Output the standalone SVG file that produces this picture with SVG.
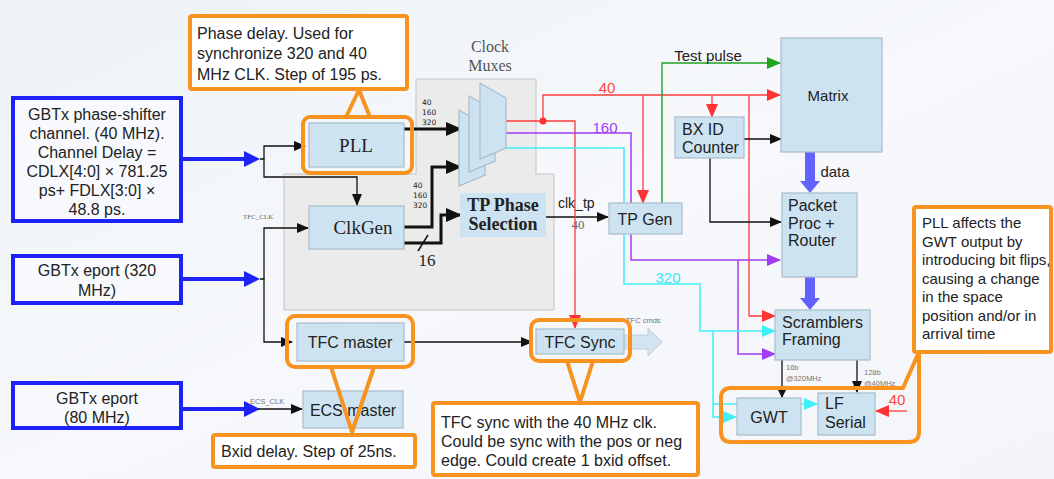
<svg xmlns="http://www.w3.org/2000/svg" width="1054" height="479" viewBox="0 0 1054 479">
  <defs>
    <linearGradient id="bg" x1="0" y1="0" x2="1" y2="1">
      <stop offset="0" stop-color="#eef2f7"/>
      <stop offset="0.5" stop-color="#f6f8fb"/>
      <stop offset="1" stop-color="#f3f5f8"/>
    </linearGradient>
    <marker id="ah-k" markerUnits="userSpaceOnUse" markerWidth="12" markerHeight="10" refX="11" refY="5" orient="auto">
      <path d="M0,0 L12,5 L0,10 Z" fill="#111"/>
    </marker>
    <marker id="ah-k-s" markerUnits="userSpaceOnUse" markerWidth="8" markerHeight="8" refX="7" refY="4" orient="auto">
      <path d="M0,0 L8,4 L0,8 Z" fill="#111"/>
    </marker>
    <marker id="ah-k-big" markerUnits="userSpaceOnUse" markerWidth="16" markerHeight="14" refX="15" refY="7" orient="auto">
      <path d="M0,0 L16,7 L0,14 Z" fill="#111"/>
    </marker>
    <marker id="ah-r" markerUnits="userSpaceOnUse" markerWidth="14" markerHeight="12" refX="13" refY="6" orient="auto">
      <path d="M0,0 L14,6 L0,12 Z" fill="#ff3333"/>
    </marker>
    <marker id="ah-p" markerUnits="userSpaceOnUse" markerWidth="14" markerHeight="12" refX="13" refY="6" orient="auto">
      <path d="M0,0 L14,6 L0,12 Z" fill="#a23cf5"/>
    </marker>
    <marker id="ah-c" markerUnits="userSpaceOnUse" markerWidth="14" markerHeight="12" refX="13" refY="6" orient="auto">
      <path d="M0,0 L14,6 L0,12 Z" fill="#3ff0f8"/>
    </marker>
    <marker id="ah-g" markerUnits="userSpaceOnUse" markerWidth="14" markerHeight="12" refX="13" refY="6" orient="auto">
      <path d="M0,0 L14,6 L0,12 Z" fill="#22a322"/>
    </marker>
    <style>
      .sans { font-family: "Liberation Sans", Arial, sans-serif; fill: #222; }
      .serif { font-family: "Liberation Serif", "Times New Roman", serif; fill: #222; }
      .box { fill: #cde3f1; stroke: #a9bccb; stroke-width: 1.2; }
      .input { fill: #f7f9fc; stroke: #1d22f5; stroke-width: 4; }
      .callout { fill: #ffffff; stroke: #f7931e; stroke-width: 4; }
      .ring { fill: none; stroke: #f7931e; stroke-width: 4; stroke-linejoin: round; }
      .wk { fill: none; stroke: #111; stroke-width: 1.3; }
      .wk3 { fill: none; stroke: #111; stroke-width: 3; }
      .wr { fill: none; stroke: #ff3b3b; stroke-width: 1.3; }
      .wp { fill: none; stroke: #a23cf5; stroke-width: 1.5; }
      .wc { fill: none; stroke: #3ff0f8; stroke-width: 1.5; }
      .wg { fill: none; stroke: #22a322; stroke-width: 1.4; }
      .wb { fill: none; stroke: #1d22f5; stroke-width: 4; }
      .tiny { font-family: "Liberation Sans", Arial, sans-serif; font-size: 7.5px; fill: #777; }
      .bus { font-family: "DejaVu Sans", sans-serif; font-size: 7.5px; fill: #222; }
    </style>
  </defs>

  <!-- background -->
  <rect x="0" y="0" width="1054" height="479" fill="url(#bg)"/>

  <!-- shaded clocking region -->
  <g id="clock-region">
    <path d="M416,79 H536 V174 H554 V310 H284 V174 H416 Z" fill="#ebebeb" stroke="#c4c4c4" stroke-width="1"/>
    <text class="serif" x="490" y="52" font-size="16" text-anchor="middle" style="fill:#555">Clock</text>
    <text class="serif" x="490" y="71" font-size="16" text-anchor="middle" style="fill:#555">Muxes</text>
  </g>

  <!-- connectors -->
  <g id="connectors">
    <!-- input arrows -->
    <line class="wb" x1="181" y1="159" x2="246" y2="159"/>
    <polygon points="244,151 260,159 244,167" fill="#1d22f5"/>
    <line class="wb" x1="181" y1="279" x2="246" y2="279"/>
    <polygon points="244,271 260,279 244,287" fill="#1d22f5"/>
    <line class="wb" x1="181" y1="409" x2="246" y2="409"/>
    <polygon points="244,401 260,409 244,417" fill="#1d22f5"/>

    <!-- 40 MHz phase-shifter clock distribution -->
    <path class="wk" d="M260,159 H264 V146 H305" marker-end="url(#ah-k)"/>
    <path class="wk" d="M264,159 V177 H357 V205" marker-end="url(#ah-k)"/>
    <!-- TFC_CLK -->
    <path class="wk" d="M260,279 H264 V228 H308" marker-end="url(#ah-k)"/>
    <path class="wk" d="M264,279 V342 H292" marker-end="url(#ah-k)"/>
    <text class="serif" x="243" y="219" font-size="7" style="fill:#666">TFC_CLK</text>
    <!-- ECS_CLK -->
    <path class="wk" d="M258,409 H302" marker-end="url(#ah-k)"/>
    <text class="tiny" x="250" y="404">ECS_CLK</text>

    <!-- clock buses into the muxes -->
    <path class="wk3" d="M404,129 H461" marker-end="url(#ah-k-big)"/>
    <text class="bus" x="422" y="105">40</text>
    <text class="bus" x="422" y="115">160</text>
    <text class="bus" x="422" y="125">320</text>
    <path class="wk3" d="M404,227 H432 V167 H461" marker-end="url(#ah-k-big)"/>
    <text class="bus" x="413" y="188">40</text>
    <text class="bus" x="413" y="198">160</text>
    <text class="bus" x="413" y="208">320</text>
    <path class="wk3" d="M404,243 H441 V215 H461" marker-end="url(#ah-k-big)"/>
    <line x1="418" y1="251" x2="428" y2="235" stroke="#111" stroke-width="1.5"/>
    <text class="serif" x="427" y="266" font-size="17" text-anchor="middle">16</text>

    <!-- clk_tp -->
    <path class="wk" d="M546,217 H608" marker-end="url(#ah-k)"/>
    <text class="sans" x="558" y="208" font-size="14">clk_tp</text>
    <text class="serif" x="578" y="229" font-size="13" text-anchor="middle" style="fill:#666">40</text>

    <!-- 40 MHz (red) -->
    <path class="wr" d="M500,121 H575 V328" marker-end="url(#ah-r)"/>
    <path class="wr" d="M543,121 V95 H780" marker-end="url(#ah-r)"/>
    <path class="wr" d="M643,95 V203" marker-end="url(#ah-r)"/>
    <path class="wr" d="M712,95 V117" marker-end="url(#ah-r)"/>
    <path class="wr" d="M749,95 V316 H775" marker-end="url(#ah-r)"/>
    <circle cx="543" cy="121" r="3.5" fill="#ff3333"/>
    <text class="sans" x="607" y="93" font-size="15" text-anchor="middle" style="fill:#ff4444">40</text>
    <path class="wr" d="M907,411 H876" marker-end="url(#ah-r)"/>
    <text class="sans" x="897" y="405" font-size="15" text-anchor="middle" style="fill:#ff4444">40</text>

    <!-- 160 MHz (purple) -->
    <path class="wp" d="M498,133 H631 V260 H780" marker-end="url(#ah-p)"/>
    <path class="wp" d="M738,260 V354 H775" marker-end="url(#ah-p)"/>
    <text class="sans" x="605" y="133" font-size="15" text-anchor="middle" style="fill:#a23cf5">160</text>

    <!-- 320 MHz (cyan) -->
    <path class="wc" d="M490,148 H624 V284 H700 V331 H775" marker-end="url(#ah-c)"/>
    <path class="wc" d="M713,331 V417 H736" marker-end="url(#ah-c)"/>
    <path class="wc" d="M713,404 H817" marker-end="url(#ah-c)"/>
    <text class="sans" x="668" y="283" font-size="15" text-anchor="middle" style="fill:#3fe6f5">320</text>

    <!-- Test pulse (green) -->
    <path class="wg" d="M662,203 V63 H780" marker-end="url(#ah-g)"/>
    <text class="sans" x="708" y="61" font-size="15" text-anchor="middle">Test pulse</text>

    <!-- BX ID counter outputs -->
    <path class="wk" d="M744,139 H781" marker-end="url(#ah-k)"/>
    <path class="wk" d="M710,158 V222 H781" marker-end="url(#ah-k)"/>

    <!-- data path -->
    <polygon points="805,152 815,152 815,181 820,181 810,193 800,181 805,181" fill="#6262ff"/>
    <text class="sans" x="835" y="177" font-size="15" text-anchor="middle">data</text>
    <polygon points="805,277 815,277 815,298 820,298 810,310 800,298 805,298" fill="#6262ff"/>

    <!-- TFC master to TFC Sync -->
    <path class="wk" d="M404,342 H532" marker-end="url(#ah-k)"/>
    <!-- TFC cmds -->
    <polygon points="624,335 648,335 648,328 662,342 648,356 648,349 624,349" fill="#d3e4f0" stroke="#bdd0de" stroke-width="1"/>
    <text class="tiny" x="626" y="323">TFC cmds</text>

    <!-- serialiser inputs -->
    <path class="wk" d="M782,360 V397" marker-end="url(#ah-k-s)"/>
    <text class="tiny" x="786" y="370">16b</text>
    <text class="tiny" x="786" y="381">@320MHz</text>
    <path class="wk" d="M857,360 V392" marker-end="url(#ah-k)"/>
    <text class="tiny" x="864" y="375">128b</text>
    <text class="tiny" x="864" y="386">@40MHz</text>
  </g>

  <!-- input sources -->
  <g id="gbtx-phase-shifter">
    <rect class="input" x="13" y="98" width="168" height="123"/>
    <text class="sans" x="97" y="120" font-size="16" text-anchor="middle">GBTx phase-shifter</text>
    <text class="sans" x="97" y="139" font-size="16" text-anchor="middle">channel. (40 MHz).</text>
    <text class="sans" x="97" y="158" font-size="16" text-anchor="middle">Channel Delay =</text>
    <text class="sans" x="97" y="177" font-size="16" text-anchor="middle">CDLX[4:0] × 781.25</text>
    <text class="sans" x="97" y="196" font-size="16" text-anchor="middle">ps+ FDLX[3:0] ×</text>
    <text class="sans" x="97" y="215" font-size="16" text-anchor="middle">48.8 ps.</text>
  </g>
  <g id="gbtx-eport-320">
    <rect class="input" x="13" y="256" width="168" height="47"/>
    <text class="sans" x="97" y="276" font-size="16" text-anchor="middle">GBTx eport (320</text>
    <text class="sans" x="97" y="296" font-size="16" text-anchor="middle">MHz)</text>
  </g>
  <g id="gbtx-eport-80">
    <rect class="input" x="13" y="383" width="168" height="45"/>
    <text class="sans" x="97" y="404" font-size="16" text-anchor="middle">GBTx eport</text>
    <text class="sans" x="97" y="423" font-size="16" text-anchor="middle">(80 MHz)</text>
  </g>

  <!-- clocking blocks -->
  <g id="pll">
    <rect class="box" x="309" y="123" width="95" height="44"/>
    <text class="serif" x="356" y="152" font-size="19" text-anchor="middle">PLL</text>
  </g>
  <g id="clkgen">
    <rect class="box" x="309" y="206" width="95" height="43"/>
    <text class="serif" x="363" y="234" font-size="19" text-anchor="middle">ClkGen</text>
  </g>
  <g id="clock-muxes">
    <path class="box" d="M459,110 L485,125 L485,175 L459,186 Z"/>
    <path class="box" d="M469,96 L495,111 L495,161 L469,172 Z"/>
    <path class="box" d="M480,83 L506,98 L506,148 L480,159 Z"/>
  </g>
  <g id="tp-phase-selection">
    <rect x="460" y="193" width="86" height="44" fill="#cde3f1"/>
    <text class="serif" x="503" y="211" font-size="18" font-weight="bold" text-anchor="middle">TP Phase</text>
    <text class="serif" x="503" y="230" font-size="18" font-weight="bold" text-anchor="middle">Selection</text>
  </g>
  <g id="tp-gen">
    <rect class="box" x="609" y="203" width="73" height="31"/>
    <text class="sans" x="645" y="225" font-size="16" text-anchor="middle">TP Gen</text>
  </g>

  <!-- data path blocks -->
  <g id="matrix">
    <rect class="box" x="781" y="38" width="101" height="114"/>
    <text class="sans" x="828" y="101" font-size="15" text-anchor="middle">Matrix</text>
  </g>
  <g id="bxid-counter">
    <rect class="box" x="675" y="117" width="69" height="41"/>
    <text class="sans" x="682" y="135" font-size="16">BX ID</text>
    <text class="sans" x="682" y="153" font-size="16">Counter</text>
  </g>
  <g id="packet-proc">
    <rect class="box" x="782" y="193" width="75" height="84"/>
    <text class="sans" x="788" y="211" font-size="16">Packet</text>
    <text class="sans" x="788" y="229" font-size="16">Proc +</text>
    <text class="sans" x="788" y="246" font-size="16">Router</text>
  </g>
  <g id="scramblers">
    <rect class="box" x="775" y="310" width="95" height="50"/>
    <text class="sans" x="782" y="328" font-size="16">Scramblers</text>
    <text class="sans" x="782" y="345" font-size="16">Framing</text>
  </g>
  <g id="gwt">
    <rect class="box" x="737" y="398" width="64" height="37"/>
    <text class="sans" x="769" y="423" font-size="16" text-anchor="middle">GWT</text>
  </g>
  <g id="lf-serial">
    <rect class="box" x="818" y="393" width="57" height="42"/>
    <text class="sans" x="825" y="409" font-size="16">LF</text>
    <text class="sans" x="825" y="428" font-size="16">Serial</text>
  </g>

  <!-- fast control blocks -->
  <g id="tfc-master">
    <rect class="box" x="297" y="323" width="107" height="38"/>
    <text class="sans" x="350" y="348" font-size="16" text-anchor="middle">TFC master</text>
  </g>
  <g id="ecs-master">
    <rect class="box" x="303" y="391" width="100" height="37"/>
    <text class="sans" x="353" y="416" font-size="16" text-anchor="middle">ECS master</text>
  </g>
  <g id="tfc-sync">
    <rect class="box" x="536" y="329" width="88" height="25"/>
    <text class="sans" x="580" y="348" font-size="16" text-anchor="middle">TFC Sync</text>
  </g>

  <!-- annotations -->
  <g id="note-pll">
    <rect class="ring" x="303" y="117" width="109" height="56" rx="7"/>
    <path class="ring" d="M346,117 L359,90 L370,117"/>
    <rect class="callout" x="190" y="16" width="217" height="73" rx="2"/>
    <text class="sans" x="197" y="39" font-size="16">Phase delay. Used for</text>
    <text class="sans" x="197" y="59" font-size="16">synchronize 320 and 40</text>
    <text class="sans" x="197" y="80" font-size="16">MHz CLK. Step of 195 ps.</text>
  </g>
  <g id="note-tfc-master">
    <rect class="ring" x="287" y="316" width="126" height="51" rx="8"/>
    <path class="ring" d="M331,367 L352,432 L374,367"/>
    <rect class="callout" x="213" y="435" width="202" height="32" rx="2"/>
    <text class="sans" x="221" y="457" font-size="16">Bxid delay. Step of 25ns.</text>
  </g>
  <g id="note-tfc-sync">
    <rect class="ring" x="531" y="320" width="99" height="41" rx="8"/>
    <path class="ring" d="M567,361 L580,402 L593,361"/>
    <rect class="callout" x="433" y="403" width="265" height="72" rx="2"/>
    <text class="sans" x="441" y="428" font-size="16">TFC sync with the 40 MHz clk.</text>
    <text class="sans" x="441" y="447" font-size="16">Could be sync with the pos or neg</text>
    <text class="sans" x="441" y="466" font-size="16">edge. Could create 1 bxid offset.</text>
  </g>
  <g id="note-gwt">
    <path class="ring" d="M731,388 H903 L919,352 V432 Q919,442 909,442 H731 Q721,442 721,432 V398 Q721,388 731,388 Z"/>
    <rect class="callout" x="914" y="207" width="137" height="145" rx="2"/>
    <text class="sans" x="922" y="228" font-size="15">PLL affects the</text>
    <text class="sans" x="922" y="247" font-size="15">GWT output by</text>
    <text class="sans" x="922" y="265" font-size="15">introducing bit flips,</text>
    <text class="sans" x="922" y="284" font-size="15">causing a change</text>
    <text class="sans" x="922" y="302" font-size="15">in the space</text>
    <text class="sans" x="922" y="321" font-size="15">position and/or in</text>
    <text class="sans" x="922" y="339" font-size="15">arrival time</text>
  </g>
</svg>
